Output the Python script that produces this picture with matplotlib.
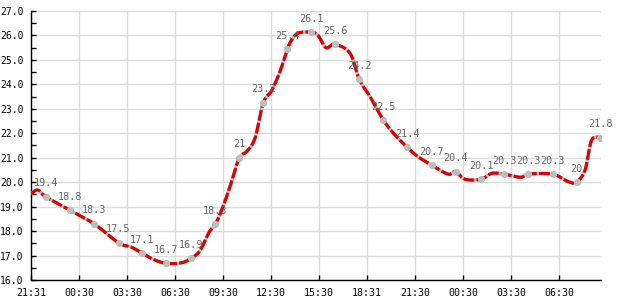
import numpy as np
import matplotlib
matplotlib.use("Agg")
import matplotlib.pyplot as plt
from matplotlib.ticker import MultipleLocator

# ---- data (hours after 21:31 start) ----
curve_hours = [0.0, 0.42, 0.94, 2.44, 3.94, 5.47, 6.25, 6.94, 7.63, 8.44, 9.38, 10.0,
               10.56, 11.13, 11.53, 12.0, 12.5, 13.02, 13.48, 14.0, 14.52, 15.04, 15.56,
               16.02, 16.29, 16.71, 17.53, 17.94, 18.44, 19.0, 19.94, 20.52, 21.19, 22.02,
               22.75, 23.52, 24.19, 25.04, 26.06, 26.54, 27.13, 28.13, 28.79, 29.56, 30.6,
               31.08, 32.6, 33.58, 34.1, 34.63, 35.04, 35.59]
curve_values = [19.52, 19.68, 19.40, 18.85, 18.30, 17.52, 17.35, 17.10, 16.85, 16.68, 16.70, 16.88,
                17.2, 17.95, 18.29, 19.0, 19.95, 21.0, 21.25, 21.8, 23.25, 23.74, 24.52,
                25.43, 25.81, 26.1, 26.13, 26.0, 25.5, 25.64, 25.27, 24.2, 23.5, 22.54,
                21.93, 21.42, 21.04, 20.70, 20.33, 20.43, 20.12, 20.12, 20.36, 20.33, 20.2,
                20.33, 20.33, 20.02, 20.0, 20.5, 21.72, 21.82]

label_hours = [0.94, 2.44, 3.94, 5.47, 6.94, 8.44, 10.0, 11.53, 13.02, 14.52, 16.02, 17.53,
               19.0, 20.52, 22.02, 23.52, 25.04, 26.54, 28.13, 29.56, 31.08, 32.6, 34.1, 35.59]
label_values = [19.4, 18.8, 18.3, 17.5, 17.1, 16.7, 16.9, 18.3, 21, 23.2, 25.4, 26.1,
                25.6, 24.2, 22.5, 21.4, 20.7, 20.4, 20.1, 20.3, 20.3, 20.3, 20, 21.8]
label_plot_y = [19.40, 18.85, 18.30, 17.52, 17.10, 16.68, 16.88, 18.29, 21.0, 23.25, 25.43, 26.13,
                25.64, 24.2, 22.54, 21.42, 20.70, 20.43, 20.12, 20.33, 20.33, 20.33, 20.0, 21.82]

tick_hours = [0, 3, 6, 9, 12, 15, 18, 21, 24, 27, 30, 33]
tick_labels = ["21:31", "00:30", "03:30", "06:30", "09:30", "12:30", "15:30", "18:31",
               "21:30", "00:30", "03:30", "06:30"]


def catmull_rom(xs, ys, n=12):
    P = np.column_stack([xs, ys]).astype(float)
    P = np.vstack([P[0], P, P[-1]])
    out = []
    t = np.linspace(0, 1, n, endpoint=False)[:, None]
    for i in range(1, len(P) - 2):
        p0, p1, p2, p3 = P[i - 1], P[i], P[i + 1], P[i + 2]
        seg = 0.5 * ((2 * p1) + (-p0 + p2) * t + (2 * p0 - 5 * p1 + 4 * p2 - p3) * t ** 2
                     + (-p0 + 3 * p1 - 3 * p2 + p3) * t ** 3)
        out.append(seg)
    out.append(P[-2][None, :])
    out = np.vstack(out)
    return out[:, 0], out[:, 1]


fig = plt.figure(figsize=(6.2, 3.0), dpi=100)
ax = fig.add_axes([31 / 620, 20 / 300, 570 / 620, 269 / 300])

mono = "DejaVu Sans Mono"

sx, sy = catmull_rom(curve_hours, curve_values)
ax.plot(sx, sy, color="#bdbdbd", lw=2.3, solid_capstyle="butt", zorder=3)
ax.plot(sx, sy, color="#dd0000", lw=2.3, dashes=(3.4, 0.7), zorder=4)
ax.plot(label_hours, label_plot_y, "o", color="#bdbdbd", ms=5.2, mec="none", zorder=5)

for h, yv, v in zip(label_hours, label_plot_y, label_values):
    ax.annotate(f"{v:g}", (h, yv), xytext=(0, 7.5), textcoords="offset points",
                ha="center", va="baseline", fontsize=7.3, family=mono, color="#666666",
                zorder=6)

ax.set_xlim(0, 35.625)
ax.set_ylim(16, 27)
ax.set_xticks(tick_hours)
ax.set_xticklabels(tick_labels)
ax.yaxis.set_major_locator(MultipleLocator(1))
ax.yaxis.set_minor_locator(MultipleLocator(0.5))
ax.yaxis.set_major_formatter(matplotlib.ticker.FormatStrFormatter("%.1f"))

ax.grid(True, which="major", color="#dcdcdc", lw=1.0)
ax.set_axisbelow(True)
for s in ["top", "right"]:
    ax.spines[s].set_visible(False)
for s in ["left", "bottom"]:
    ax.spines[s].set_color("black")
    ax.spines[s].set_linewidth(1.0)

ax.tick_params(axis="y", which="both", direction="in", length=3.5, width=1, color="black",
               labelsize=7.0, pad=5.5)
ax.tick_params(axis="x", which="major", direction="in", length=3.5, width=1, color="black",
               labelsize=7.2, pad=6)
for lab in ax.get_xticklabels() + ax.get_yticklabels():
    lab.set_family(mono)

fig.savefig("out.png", dpi=100)
